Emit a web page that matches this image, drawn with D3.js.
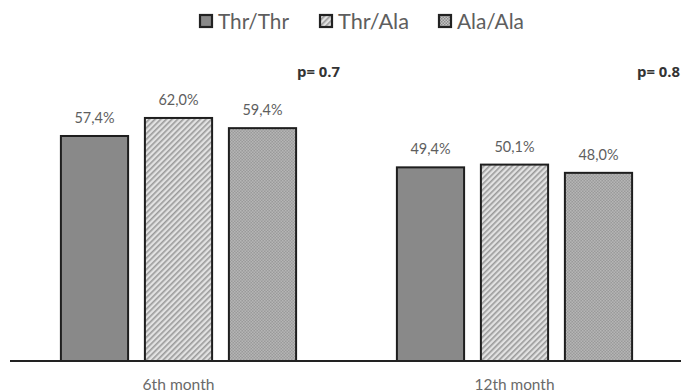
<!DOCTYPE html>
<html><head><meta charset="utf-8">
<script src="https://cdn.jsdelivr.net/npm/d3@7/dist/d3.min.js"></script>
<style>body{margin:0;background:#fff}svg{display:block}</style>
</head><body>
<svg id="c" width="681" height="392"></svg>
<script>
const categories = ["6th month", "12th month"];
const series = ["Thr/Thr", "Thr/Ala", "Ala/Ala"];
const values6 = [57.4, 62.0, 59.4];
const values12 = [49.4, 50.1, 48.0];
const valueLabels6 = ["57,4%", "62,0%", "59,4%"];
const valueLabels12 = ["49,4%", "50,1%", "48,0%"];
const pLabels = ["p= 0.7", "p= 0.8"];

const svg = d3.select("#c");
const defs = svg.append("defs");
const ph = defs.append("pattern").attr("id","hatch").attr("patternUnits","userSpaceOnUse")
  .attr("width",4).attr("height",4).attr("patternTransform","rotate(45)");
ph.append("rect").attr("width",4).attr("height",4).attr("fill","#e2e2e2");
ph.append("rect").attr("width",1.6).attr("height",4).attr("fill","#9a9a9a");
const pc = defs.append("pattern").attr("id","check").attr("patternUnits","userSpaceOnUse")
  .attr("width",3).attr("height",3);
pc.append("rect").attr("width",3).attr("height",3).attr("fill","#c4c4c4");
pc.append("rect").attr("width",1.5).attr("height",1.5).attr("fill","#8c8c8c");
pc.append("rect").attr("x",1.5).attr("y",1.5).attr("width",1.5).attr("height",1.5).attr("fill","#8c8c8c");

const fills = ["#898989", "url(#hatch)", "url(#check)"];
const data = [values6, values12];
const labels = [valueLabels6, valueLabels12];

const font = "Lato, 'Open Sans', sans-serif";
function fit(sel, target) {
  sel.each(function() {
    const fs = parseFloat(this.getAttribute("font-size"));
    const w = this.getComputedTextLength();
    if (w > 0) this.setAttribute("font-size", (fs * target / w).toFixed(2));
  });
}

const baseY = 361;
const y = d3.scaleLinear().domain([0, 70]).range([baseY, baseY - 3.92*70]);
const x0 = d3.scaleBand().domain(categories).range([10.5, 682.5]).padding(0);
const x1 = d3.scaleBand().domain(series).range([0, 252]).paddingInner(0.2).paddingOuter(0.1);

categories.forEach((cat, ci) => {
  const gx = x0(cat) + x0.bandwidth()/2 - 126;
  const g = svg.append("g").attr("transform", `translate(${gx},0)`);
  series.forEach((s, si) => {
    const v = data[ci][si];
    g.append("rect")
      .attr("x", x1(s)).attr("y", y(v))
      .attr("width", x1.bandwidth()).attr("height", y(0) - y(v))
      .attr("fill", fills[si]).attr("stroke", "#1e1e1e").attr("stroke-width", 2);
    g.append("text")
      .attr("x", x1(s) + x1.bandwidth()/2).attr("y", y(v) - 13)
      .attr("text-anchor","middle").attr("font-family", font).attr("font-size", 14)
      .attr("fill","#5e5e5e").text(labels[ci][si])
      .call(fit, 40);
  });
});

const axis = svg.append("g").attr("transform", `translate(0,${baseY})`)
  .call(d3.axisBottom(x0).tickSize(0).tickPadding(18));
axis.select(".domain").attr("stroke","#222").attr("stroke-width",2).attr("d","M10,0H681");
axis.selectAll("text").attr("font-family", font).attr("font-size", 13).attr("fill","#6a6a6a")
  .each(function(d, i){ fit(d3.select(this), i === 0 ? 72 : 80); });

const pX = [297, 637];
pLabels.forEach((p, i) => {
  svg.append("text").attr("x", pX[i]).attr("y", 76.5)
    .attr("font-family", "'Open Sans', sans-serif").attr("font-weight","bold").attr("font-size", 14)
    .attr("fill","#333").text(p).call(fit, 43);
});

const legX = [200, 320, 439];
series.forEach((s, i) => {
  svg.append("rect").attr("x", legX[i]).attr("y", 15).attr("width", 12).attr("height", 12)
    .attr("fill", fills[i]).attr("stroke","#222").attr("stroke-width",2.2);
  svg.append("text").attr("x", legX[i] + 18).attr("y", 29)
    .attr("font-family", font).attr("font-size", 19).attr("fill","#5e5e5e").text(s)
    .call(fit, i === 2 ? 67 : 71);
});
</script>
</body></html>
